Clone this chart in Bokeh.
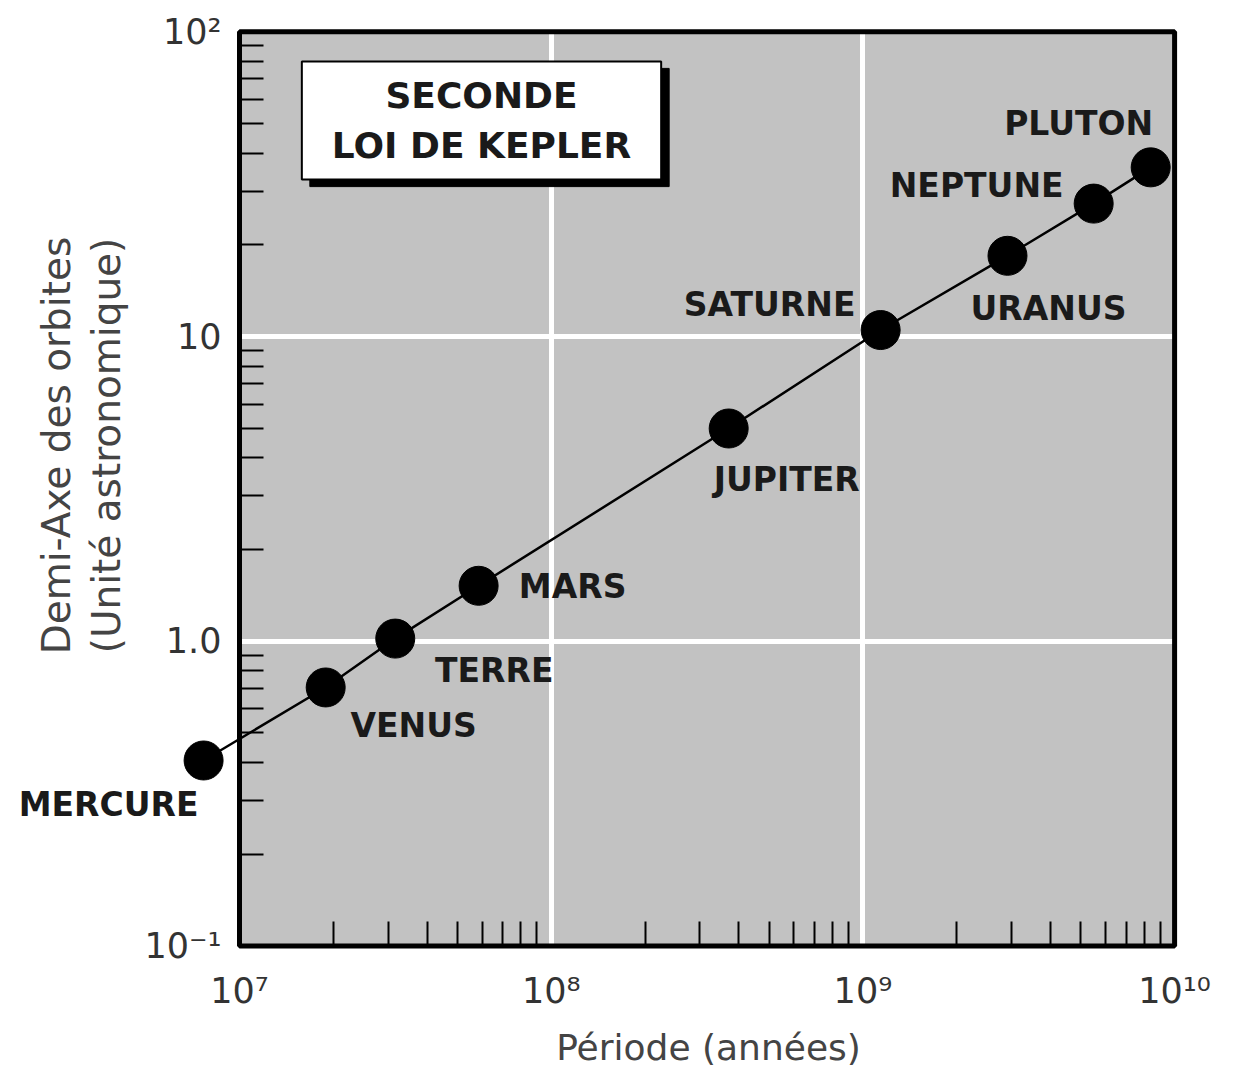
import math
from bokeh.plotting import figure
from bokeh.models import ColumnDataSource, FixedTicker, BoxAnnotation, Label, LabelSet, Range1d
from bokeh.core.properties import value
from bokeh.embed import file_html
from bokeh.resources import INLINE

# ---------------- data ----------------
planets = ["MERCURE", "VENUS", "TERRE", "MARS", "JUPITER", "SATURNE", "URANUS", "NEPTUNE", "PLUTON"]
periode = [7.67e6, 1.89e7, 3.16e7, 5.85e7, 3.71e8, 1.14e9, 2.91e9, 5.50e9, 8.38e9]
demi_axe = [0.406, 0.705, 1.02, 1.52, 4.99, 10.5, 18.4, 27.3, 35.9]

x_ticks = [1e7, 1e8, 1e9, 1e10]
x_tick_labels = ["10⁷", "10⁸", "10⁹", "10¹⁰"]
y_ticks = [0.1, 1.0, 10.0, 100.0]
y_tick_labels = ["10⁻¹", "1.0", "10", "10²"]

title_text = "SECONDE\nLOI DE KEPLER"
x_title = "Période (années)"
y_title = "Demi-Axe des orbites\n(Unité astronomique)"

# ---------------- layout / style ----------------
label_dx = [-95, 88, 99, 94, 58, -111, 41, -117, -72]
label_dy = [-44, -38, -32, -1, -51, 26, -53, 18, 44]

W, H = 1240, 1071
# pixel placement of the decades (frame = whole canvas)
PX_X7, PX_DEC_X = 239.0, 311.7     # x of 1e7, px per decade
PX_Y1, PX_DEC_Y = 640.7, 304.7     # y of 1.0, px per decade

X0 = 10 ** (7 - PX_X7 / PX_DEC_X)
X1 = 10 ** (7 + (W - PX_X7) / PX_DEC_X)
Y1 = 10 ** (PX_Y1 / PX_DEC_Y)
Y0 = 10 ** ((PX_Y1 - H) / PX_DEC_Y)

def dx_(px):
    return 10 ** (7 + (px - PX_X7) / PX_DEC_X)

def dy_(py):
    return 10 ** ((PX_Y1 - py) / PX_DEC_Y)

x_minor = [m * 10 ** k for k in (7, 8, 9) for m in range(2, 10)]
y_minor = [m * 10.0 ** k for k in (-1, 0, 1) for m in range(2, 10)]

p = figure(width=W, height=H, x_axis_type="log", y_axis_type="log",
           x_range=Range1d(X0, X1), y_range=Range1d(Y0, Y1),
           output_backend="svg", toolbar_location=None,
           min_border_left=0, min_border_right=0, min_border_top=0, min_border_bottom=0)
p.background_fill_color = "white"
p.border_fill_color = "white"
p.outline_line_color = None

# shaded plotting area
p.add_layout(BoxAnnotation(left=1e7, right=1e10, bottom=0.1, top=100, fill_color="#c2c2c2",
                           fill_alpha=1.0, line_color=None, level="image"))

# grid
p.xgrid.ticker = FixedTicker(ticks=[1e8, 1e9])
p.ygrid.ticker = FixedTicker(ticks=[1.0, 10.0])
for g in (p.xgrid[0], p.ygrid[0]):
    g.grid_line_color = "white"
    g.grid_line_width = 5
    g.grid_line_alpha = 1.0

# axes (placed inside the frame)
xa = p.xaxis[0]
xa.fixed_location = 0.1
xa.ticker = FixedTicker(ticks=x_ticks, minor_ticks=x_minor)
xa.major_label_overrides = dict(zip(x_ticks, x_tick_labels))
ya = p.yaxis[0]
ya.fixed_location = 1e7
ya.ticker = FixedTicker(ticks=y_ticks, minor_ticks=y_minor)
ya.major_label_overrides = dict(zip(y_ticks, y_tick_labels))
for a in (xa, ya):
    a.axis_line_color = None
    a.major_tick_line_color = None
    a.major_tick_in = 0
    a.major_tick_out = 0
    a.minor_tick_in = 24
    a.minor_tick_out = 0
    a.minor_tick_line_color = "black"
    a.minor_tick_line_width = 2
    a.major_label_text_font = "DejaVu Sans"
    a.major_label_text_font_size = "35px"
    a.major_label_text_color = "#333333"
xa.major_label_standoff = 25
ya.major_label_standoff = 18

# frame border
p.add_layout(BoxAnnotation(left=1e7, right=1e10, bottom=0.1, top=100, fill_color=None,
                           fill_alpha=0, line_color="black", line_width=5, line_alpha=1.0,
                           level="guide"))

# data
src = ColumnDataSource(dict(x=periode, y=demi_axe, name=planets, dx=label_dx, dy=label_dy))
p.line("x", "y", source=src, line_color="black", line_width=2.5)
p.scatter("x", "y", source=src, size=39, color="black")
p.add_layout(LabelSet(x="x", y="y", text="name", x_offset="dx", y_offset="dy", source=src,
                      text_font=value("DejaVu Sans"), text_font_style="bold",
                      text_font_size="33px", text_align="center", text_baseline="middle",
                      text_color="#1a1a1a"))

# title box with shadow
tx, ty = dx_(481), dy_(120)
pad = dict(left=30, right=30, top=14, bottom=14)
common = dict(text_font="DejaVu Sans", text_font_style="bold", text_font_size="36px",
              text_align="center", text_baseline="middle", text_line_height=1.2)
p.add_layout(Label(x=tx, y=ty, text=title_text, text_color="black", background_fill_color="black",
                   border_line_color="black", padding=pad, x_offset=8, y_offset=-7, **common))
p.add_layout(Label(x=tx, y=ty, text=title_text, text_color="#1a1a1a", background_fill_color="white",
                   border_line_color="black", border_line_width=2, padding=pad, **common))

# axis titles
p.add_layout(Label(x=dx_(81), y=dy_(445), text=y_title, angle=90, angle_units="deg",
                   text_font="DejaVu Sans", text_font_size="39px", text_color="#444444",
                   text_align="center", text_baseline="middle", text_line_height=1.1))
p.add_layout(Label(x=dx_(708), y=dy_(1047), text=x_title,
                   text_font="DejaVu Sans", text_font_size="36px", text_color="#444444",
                   text_align="center", text_baseline="middle"))

open("out.html", "w").write(file_html(p, INLINE))
